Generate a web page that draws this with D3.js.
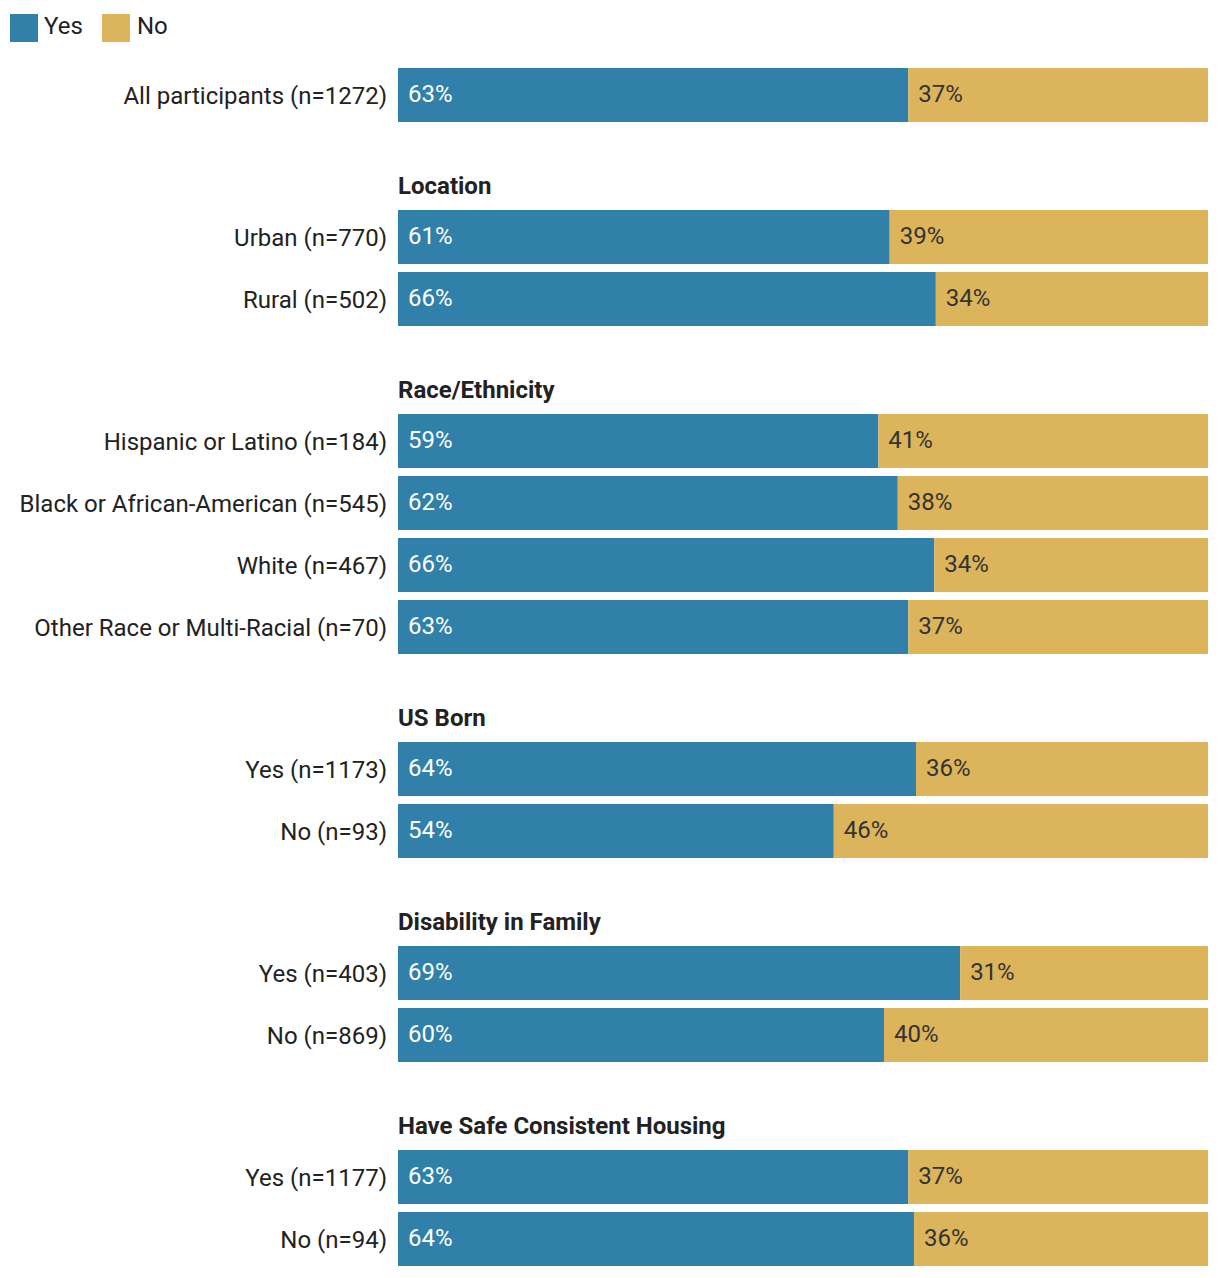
<!DOCTYPE html>
<html>
<head>
<meta charset="utf-8">
<script src="https://cdn.jsdelivr.net/npm/d3@7"></script>
<style>
  html, body { margin: 0; padding: 0; background: #fff; }
  svg { display: block; font-family: Roboto, "Noto Sans", sans-serif; }
</style>
</head>
<body>
<div id="chart"></div>
<script>
// ---- data ----
const seriesNames = ["Yes", "No"];
const groupHeadings = [null, "Location", "Race/Ethnicity", "US Born", "Disability in Family", "Have Safe Consistent Housing"];
const groupRows = [
  ["All participants (n=1272)"],
  ["Urban (n=770)", "Rural (n=502)"],
  ["Hispanic or Latino (n=184)", "Black or African-American (n=545)", "White (n=467)", "Other Race or Multi-Racial (n=70)"],
  ["Yes (n=1173)", "No (n=93)"],
  ["Yes (n=403)", "No (n=869)"],
  ["Yes (n=1177)", "No (n=94)"]
];
const yesValues = [
  [63.0],
  [60.7, 66.4],
  [59.3, 61.7, 66.2, 63.0],
  [63.95, 53.8],
  [69.4, 60.0],
  [63.0, 63.7]
];
const noValues = yesValues.map(g => g.map(v => 100 - v));

// ---- layout ----
const W = 1220, H = 1278;
const colors = { Yes: "#3180aa", No: "#dcb45b" };
const barLeft = 398, barRight = 1208;
const barH = 54, rowPitch = 62, headingGap = 80, firstTop = 68;
const fs = 24;

const x = d3.scaleLinear().domain([0, 100]).range([barLeft, barRight]);

// build flat row list with y positions
const rows = [];
const headings = [];
let y = firstTop;
groupRows.forEach((g, gi) => {
  if (groupHeadings[gi]) {
    y += headingGap;
    headings.push({ text: groupHeadings[gi], y: y - 16 });
  }
  g.forEach((label, ri) => {
    rows.push({ label, yes: yesValues[gi][ri], no: noValues[gi][ri], y });
    y += rowPitch;
  });
});

const svg = d3.select("#chart").append("svg").attr("width", W).attr("height", H);

// legend
const legend = svg.append("g");
const legendItems = [{ name: seriesNames[0], x: 10, tx: 44 }, { name: seriesNames[1], x: 102, tx: 137 }];
legendItems.forEach(li => {
  legend.append("rect").attr("x", li.x).attr("y", 14).attr("width", 28).attr("height", 28)
    .attr("fill", colors[li.name]);
  legend.append("text").attr("x", li.tx).attr("y", 26).attr("dy", "0.35em")
    .attr("font-size", fs).attr("fill", "#222").text(li.name);
});

// headings
svg.append("g").selectAll("text").data(headings).join("text")
  .attr("x", barLeft).attr("y", d => d.y)
  .attr("font-size", fs).attr("font-weight", 700).attr("fill", "#222")
  .text(d => d.text);

// rows
const rg = svg.append("g").selectAll("g").data(rows).join("g");

rg.append("text")
  .attr("x", barLeft - 11).attr("y", d => d.y + barH / 2 + 1).attr("dy", "0.35em")
  .attr("text-anchor", "end").attr("font-size", fs).attr("fill", "#222")
  .text(d => d.label);

rg.append("rect")
  .attr("x", x(0)).attr("y", d => d.y)
  .attr("width", d => x(d.yes) - x(0)).attr("height", barH)
  .attr("fill", colors.Yes);

rg.append("rect")
  .attr("x", d => x(d.yes)).attr("y", d => d.y)
  .attr("width", d => x(d.yes + d.no) - x(d.yes)).attr("height", barH)
  .attr("fill", colors.No);

rg.append("text")
  .attr("x", x(0) + 10).attr("y", d => d.y + barH / 2 - 1).attr("dy", "0.35em")
  .attr("font-size", fs).attr("fill", "#fff")
  .text(d => Math.round(d.yes) + "%");

rg.append("text")
  .attr("x", d => x(d.yes) + 10).attr("y", d => d.y + barH / 2 - 1).attr("dy", "0.35em")
  .attr("font-size", fs).attr("fill", "#333")
  .text(d => Math.round(d.no) + "%");
</script>
</body>
</html>
